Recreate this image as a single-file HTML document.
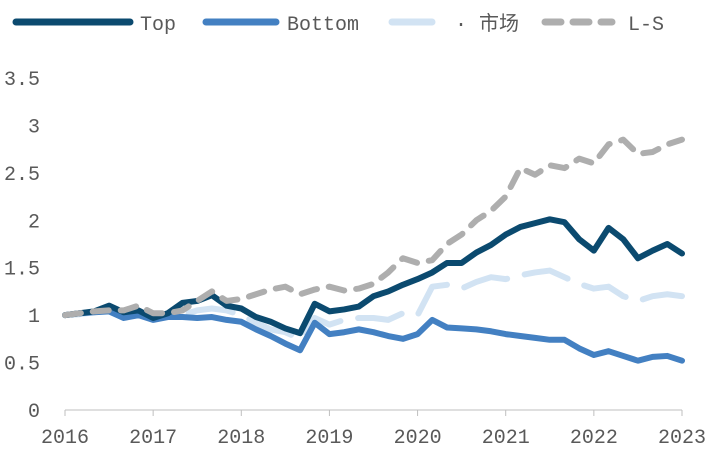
<!DOCTYPE html>
<html><head><meta charset="utf-8"><style>
body{margin:0;background:#fff;}
svg text{font-family:"Liberation Mono","Noto Sans CJK SC",monospace;fill:#595959;}
</style></head><body>
<svg id="chart" width="714" height="456" xmlns="http://www.w3.org/2000/svg">
<g id="legend">
 <g><line x1="16" y1="22" x2="130" y2="22" stroke="#0b4a6f" stroke-width="7" stroke-linecap="round"/><text x="140" y="30" font-size="20">Top</text></g>
 <g><line x1="206" y1="22" x2="276" y2="22" stroke="#4380c2" stroke-width="7" stroke-linecap="round"/><text x="287" y="30" font-size="20">Bottom</text></g>
 <g><line x1="392" y1="22" x2="442" y2="22" stroke="#d2e3f3" stroke-width="7" stroke-dasharray="40 14" stroke-linecap="round"/><text x="455" y="30" font-size="20">· 市场</text></g>
 <g><line x1="545" y1="22" x2="612" y2="22" stroke="#aeaeae" stroke-width="7" stroke-dasharray="16 12" stroke-linecap="round"/><text x="628" y="30" font-size="20">L-S</text></g>
</g>
<g id="axes"></g>
<g id="series"></g>
</svg>
<script>
const yTicks=[0,0.5,1,1.5,2,2.5,3,3.5];
const yTickLabels=["0","0.5","1","1.5","2","2.5","3","3.5"];
const xTickLabels=["2016","2017","2018","2019","2020","2021","2022","2023"];
const topSeries=[1.0,1.02,1.04,1.10,1.03,1.05,0.97,1.02,1.13,1.15,1.21,1.10,1.07,0.98,0.93,0.86,0.81,1.12,1.04,1.06,1.09,1.20,1.25,1.32,1.38,1.45,1.55,1.55,1.66,1.74,1.85,1.93,1.97,2.01,1.98,1.80,1.68,1.92,1.80,1.60,1.68,1.75,1.65];
const bottomSeries=[1.0,1.02,1.03,1.04,0.97,1.0,0.95,0.98,0.98,0.97,0.98,0.95,0.93,0.85,0.78,0.70,0.63,0.92,0.80,0.82,0.85,0.82,0.78,0.75,0.80,0.95,0.87,0.86,0.85,0.83,0.80,0.78,0.76,0.74,0.74,0.65,0.58,0.62,0.57,0.52,0.56,0.57,0.52];
const marketSeries=[1.0,1.01,1.03,1.05,1.0,1.02,0.97,0.99,1.0,1.05,1.07,1.05,1.0,0.92,0.85,0.82,0.75,0.97,0.90,0.95,0.97,0.97,0.95,1.02,1.0,1.30,1.32,1.28,1.35,1.40,1.38,1.42,1.45,1.47,1.40,1.33,1.28,1.30,1.20,1.15,1.20,1.22,1.20];
const lsSeries=[1.0,1.02,1.04,1.05,1.05,1.10,1.02,1.02,1.05,1.15,1.25,1.15,1.17,1.22,1.27,1.30,1.22,1.27,1.30,1.26,1.28,1.33,1.45,1.60,1.55,1.58,1.75,1.85,2.0,2.1,2.25,2.55,2.48,2.58,2.55,2.65,2.60,2.80,2.85,2.70,2.72,2.80,2.85];
const NS="http://www.w3.org/2000/svg";
const X0=65,X1=682,Y0=410,Y35=78;
const xScale=i=>X0+(X1-X0)*i/(topSeries.length-1);
const xYear=k=>X0+(X1-X0)*k/(xTickLabels.length-1);
const yScale=v=>Y0-(Y0-Y35)*v/3.5;
const axes=document.getElementById('axes');
const ax=document.createElementNS(NS,'line');
ax.setAttribute('x1',X0);ax.setAttribute('x2',X1);ax.setAttribute('y1',Y0);ax.setAttribute('y2',Y0);
ax.setAttribute('stroke','#bfbfbf');


axes.appendChild(ax);
yTicks.forEach((v,i)=>{
 const t=document.createElementNS(NS,'text');
 t.setAttribute('x',40);t.setAttribute('y',yScale(v)+7);t.setAttribute('text-anchor','end');t.setAttribute('font-size','20');
 t.textContent=yTickLabels[i];
 
 
 axes.appendChild(t);
});
xTickLabels.forEach((s,k)=>{
 const tk=document.createElementNS(NS,'line');
 tk.setAttribute('x1',xYear(k));tk.setAttribute('x2',xYear(k));tk.setAttribute('y1',Y0);tk.setAttribute('y2',Y0+6);tk.setAttribute('stroke','#bfbfbf');
 
 
 axes.appendChild(tk);
 const t=document.createElementNS(NS,'text');
 t.setAttribute('x',xYear(k));t.setAttribute('y',443);t.setAttribute('text-anchor','middle');t.setAttribute('font-size','20');
 t.textContent=s;
 
 
 axes.appendChild(t);
});
const series=document.getElementById('series');
function draw(data,color,dash,name){
 const p=document.createElementNS(NS,'polyline');
 p.setAttribute('points',data.map((v,i)=>xScale(i)+','+yScale(v)).join(' '));
 p.setAttribute('fill','none');p.setAttribute('stroke',color);p.setAttribute('stroke-width','6');
 p.setAttribute('stroke-linejoin','round');p.setAttribute('stroke-linecap','round');
 if(dash)p.setAttribute('stroke-dasharray',dash);
 
 
 series.appendChild(p);
}
draw(marketSeries,'#d2e3f3','45 18','market-line');
draw(bottomSeries,'#4380c2',null,'bottom-line');
draw(topSeries,'#0b4a6f',null,'top-line');
draw(lsSeries,'#aeaeae','16 12','ls-line');
</script>
</body></html>
